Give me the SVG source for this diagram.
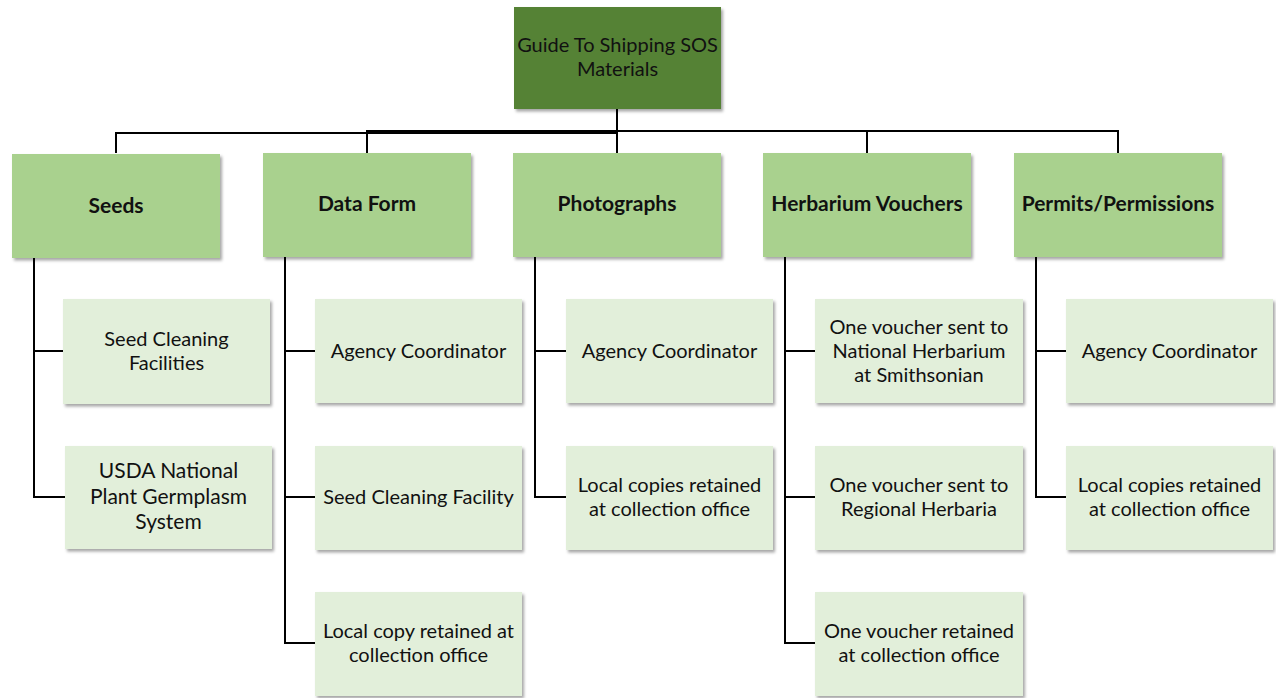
<svg xmlns="http://www.w3.org/2000/svg" width="1276" height="698" viewBox="0 0 1276 698">
<defs>
<filter id="sh" x="-10%" y="-10%" width="125%" height="130%">
<feDropShadow dx="2" dy="2.5" stdDeviation="1.5" flood-color="#000" flood-opacity="0.35"/>
</filter>
<style>
.root{fill:#548235;filter:url(#sh)}
.l1{fill:#A9D18E;filter:url(#sh)}
.l2{fill:#E2EFDA;filter:url(#sh)}
text{font-family:Lato,"Liberation Sans",sans-serif;font-size:20px;fill:#111;text-anchor:middle}
.b{font-weight:bold;font-size:21px}
.big{font-size:21px}
.c path{fill:none;stroke:#000;stroke-width:2}
</style>
</defs>
<rect width="1276" height="698" fill="#fff"/>
<g class="c" id="connectors">
<path d="M617,109 V133 H116 V153"/>
<path d="M617,109 V131 H367 V153"/>
<path d="M617,109 V153"/>
<path d="M617,131 H867 V153"/>
<path d="M617,131 H1118 V153"/>
<path d="M34,257 V497 H65 M34,351 H63"/>
<path d="M285,257 V643 H315 M285,351 H315 M285,497 H315"/>
<path d="M535,257 V497 H566 M535,351 H566"/>
<path d="M785,257 V643 H815 M785,351 H815 M785,497 H815"/>
<path d="M1036,257 V497 H1066 M1036,351 H1066"/>
</g>
<g id="root"><rect class="root" x="514" y="7" width="207" height="102"/>
<text x="617.5" y="52">Guide To Shipping SOS</text><text x="617.5" y="76">Materials</text></g>
<g id="seeds"><rect class="l1" x="12" y="154" width="208" height="104"/><text class="b" x="116" y="213">Seeds</text></g>
<g id="dataform"><rect class="l1" x="263" y="153" width="208" height="104"/><text class="b" x="367" y="211">Data Form</text></g>
<g id="photographs"><rect class="l1" x="513" y="153" width="208" height="104"/><text class="b" x="617" y="211">Photographs</text></g>
<g id="herbarium"><rect class="l1" x="763" y="153" width="208" height="104"/><text class="b" x="867" y="211">Herbarium Vouchers</text></g>
<g id="permits"><rect class="l1" x="1014" y="153" width="208" height="104"/><text class="b" x="1118" y="211">Permits/Permissions</text></g>

<g id="seed-cleaning"><rect class="l2" x="63" y="299" width="207" height="105"/><text x="166.5" y="346">Seed Cleaning</text><text x="166.5" y="370">Facilities</text></g>
<g id="usda"><rect class="l2" x="65" y="446" width="207" height="103"/><text class="big" x="168.5" y="478">USDA National</text><text class="big" x="168.5" y="503.5">Plant Germplasm</text><text class="big" x="168.5" y="529">System</text></g>

<g id="df-agency"><rect class="l2" x="315" y="299" width="207" height="104"/><text x="418.5" y="358">Agency Coordinator</text></g>
<g id="df-seed"><rect class="l2" x="315" y="446" width="207" height="104"/><text x="418.5" y="504">Seed Cleaning Facility</text></g>
<g id="df-local"><rect class="l2" x="315" y="592" width="207" height="104"/><text x="418.5" y="638">Local copy retained at</text><text x="418.5" y="662">collection office</text></g>

<g id="ph-agency"><rect class="l2" x="566" y="299" width="207" height="104"/><text x="669.5" y="358">Agency Coordinator</text></g>
<g id="ph-local"><rect class="l2" x="566" y="446" width="207" height="104"/><text x="669.5" y="492">Local copies retained</text><text x="669.5" y="516">at collection office</text></g>

<g id="hv-national"><rect class="l2" x="815" y="299" width="208" height="104"/><text x="919" y="334">One voucher sent to</text><text x="919" y="358">National Herbarium</text><text x="919" y="382">at Smithsonian</text></g>
<g id="hv-regional"><rect class="l2" x="815" y="446" width="208" height="104"/><text x="919" y="492">One voucher sent to</text><text x="919" y="516">Regional Herbaria</text></g>
<g id="hv-local"><rect class="l2" x="815" y="592" width="208" height="104"/><text x="919" y="638">One voucher retained</text><text x="919" y="662">at collection office</text></g>

<g id="pp-agency"><rect class="l2" x="1066" y="299" width="207" height="104"/><text x="1169.5" y="358">Agency Coordinator</text></g>
<g id="pp-local"><rect class="l2" x="1066" y="446" width="207" height="104"/><text x="1169.5" y="492">Local copies retained</text><text x="1169.5" y="516">at collection office</text></g>
</svg>
